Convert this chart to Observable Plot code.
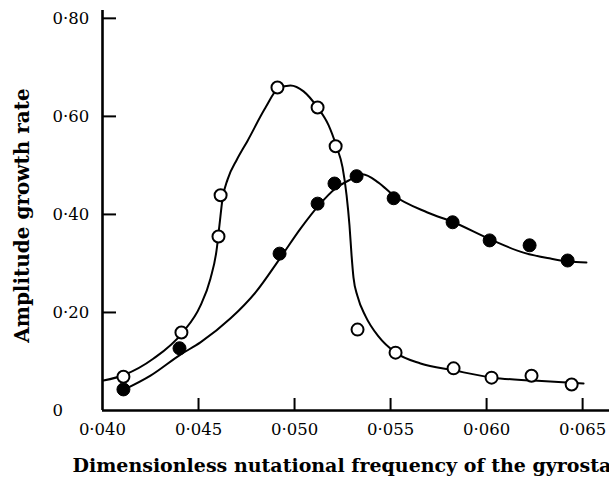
<!DOCTYPE html>
<html>
<head>
<meta charset="utf-8">
<script src="https://cdn.jsdelivr.net/npm/d3@7"></script>
<script src="https://cdn.jsdelivr.net/npm/@observablehq/plot@0.6"></script>
<style>
  html, body { margin: 0; padding: 0; background: white; overflow: hidden; }
</style>
</head>
<body>
<div id="chart"></div>
<script>
// Measured points: open circles
const openFreq = [0.04109, 0.04411, 0.04604, 0.04615, 0.04911, 0.0512, 0.05214, 0.05328, 0.05526, 0.05828, 0.06026, 0.06234, 0.06443];
const openRate = [0.069, 0.159, 0.355, 0.439, 0.659, 0.618, 0.539, 0.165, 0.118, 0.086, 0.067, 0.071, 0.053];

// Measured points: filled circles
const filledFreq = [0.04109, 0.04401, 0.04922, 0.0512, 0.05208, 0.05323, 0.05516, 0.05823, 0.06016, 0.06224, 0.06422];
const filledRate = [0.043, 0.127, 0.320, 0.422, 0.463, 0.478, 0.433, 0.384, 0.347, 0.337, 0.306];

// Hand-drawn fitted curves
const openCurveFreq = [0.04005, 0.04115, 0.04266, 0.04417, 0.04510, 0.04562, 0.04594, 0.04609, 0.04625, 0.04652, 0.04700, 0.04755, 0.04849, 0.04916, 0.04979, 0.05047, 0.0512, 0.05177, 0.05218, 0.0525, 0.05271, 0.05286, 0.05297, 0.05307, 0.05328, 0.0537, 0.05437, 0.05526, 0.05656, 0.05828, 0.06031, 0.06244, 0.06505];
const openCurveRate = [0.061, 0.073, 0.106, 0.159, 0.214, 0.269, 0.327, 0.378, 0.432, 0.472, 0.512, 0.550, 0.618, 0.657, 0.663, 0.651, 0.618, 0.582, 0.539, 0.496, 0.439, 0.378, 0.316, 0.271, 0.233, 0.192, 0.151, 0.118, 0.096, 0.082, 0.067, 0.061, 0.055];

const filledCurveFreq = [0.04115, 0.0425, 0.04406, 0.0451, 0.04667, 0.04797, 0.04927, 0.05031, 0.05125, 0.05213, 0.05291, 0.05354, 0.05437, 0.05515, 0.05692, 0.05828, 0.0602, 0.06192, 0.06333, 0.06427, 0.0652];
const filledCurveRate = [0.043, 0.071, 0.114, 0.139, 0.188, 0.241, 0.312, 0.371, 0.418, 0.453, 0.471, 0.482, 0.465, 0.439, 0.404, 0.384, 0.349, 0.322, 0.310, 0.304, 0.302];

// Axes
const xTickValues = [0.040, 0.045, 0.050, 0.055, 0.060, 0.065];
const xTickLabels = ["0·040", "0·045", "0·050", "0·055", "0·060", "0·065"];
const yTickValues = [0, 0.20, 0.40, 0.60, 0.80];
const yTickLabels = ["0", "0·20", "0·40", "0·60", "0·80"];
const xTitle = "Dimensionless nutational frequency of the gyrostat";
const yTitle = "Amplitude growth rate";

const zip = (xs, ys) => xs.map((x, i) => ({x, y: ys[i]}));
const openPts = zip(openFreq, openRate);
const filledPts = zip(filledFreq, filledRate);
const openCurve = zip(openCurveFreq, openCurveRate);
const filledCurve = zip(filledCurveFreq, filledCurveRate);

const xFmt = d => xTickLabels[xTickValues.findIndex(v => Math.abs(v - d) < 1e-9)];
const yFmt = d => yTickLabels[yTickValues.findIndex(v => Math.abs(v - d) < 1e-9)];

const chart = Plot.plot({
  width: 609,
  height: 486,
  marginLeft: 102,
  marginRight: 0,
  marginTop: 10,
  marginBottom: 76,
  style: {fontFamily: "'DejaVu Serif', serif", fontSize: "16px", color: "black", background: "white", overflow: "visible"},
  x: {domain: [0.040, 0.0664]},
  y: {domain: [0, 0.816]},
  marks: [
    Plot.axisX({ticks: xTickValues.slice(1), tickSize: -12, strokeWidth: 2, tickFormat: () => "", label: null}),
    Plot.axisX({ticks: xTickValues, tickSize: 0, tickPadding: 13, tickFormat: xFmt, label: null, fontSize: 16.5}),
    Plot.axisY({ticks: yTickValues.slice(1), tickSize: -14, strokeWidth: 2, tickFormat: () => "", label: null}),
    Plot.axisY({ticks: yTickValues, tickSize: 0, tickPadding: 50, textAnchor: "start", tickFormat: yFmt, label: null, fontSize: 16.5}),
    Plot.ruleY([0], {strokeWidth: 2.6}),
    Plot.ruleX([0.040], {strokeWidth: 2.6}),
    Plot.line(openCurve, {x: "x", y: "y", curve: "monotone-x", stroke: "black", strokeWidth: 2}),
    Plot.line(filledCurve, {x: "x", y: "y", curve: "monotone-x", stroke: "black", strokeWidth: 2}),
    Plot.dot(openPts, {x: "x", y: "y", r: 6, fill: "white", stroke: "black", strokeWidth: 2}),
    Plot.dot(filledPts, {x: "x", y: "y", r: 6.5, fill: "black", stroke: "black", strokeWidth: 1}),
    Plot.text([xTitle], {frameAnchor: "bottom-left", textAnchor: "start", dx: -30, dy: 61, fontWeight: "bold", fontSize: 19}),
    Plot.text([yTitle], {frameAnchor: "left", textAnchor: "middle", rotate: -90, dx: -80, dy: 5, fontWeight: "bold", fontSize: 20})
  ]
});
document.getElementById("chart").appendChild(chart);
</script>
</body>
</html>
